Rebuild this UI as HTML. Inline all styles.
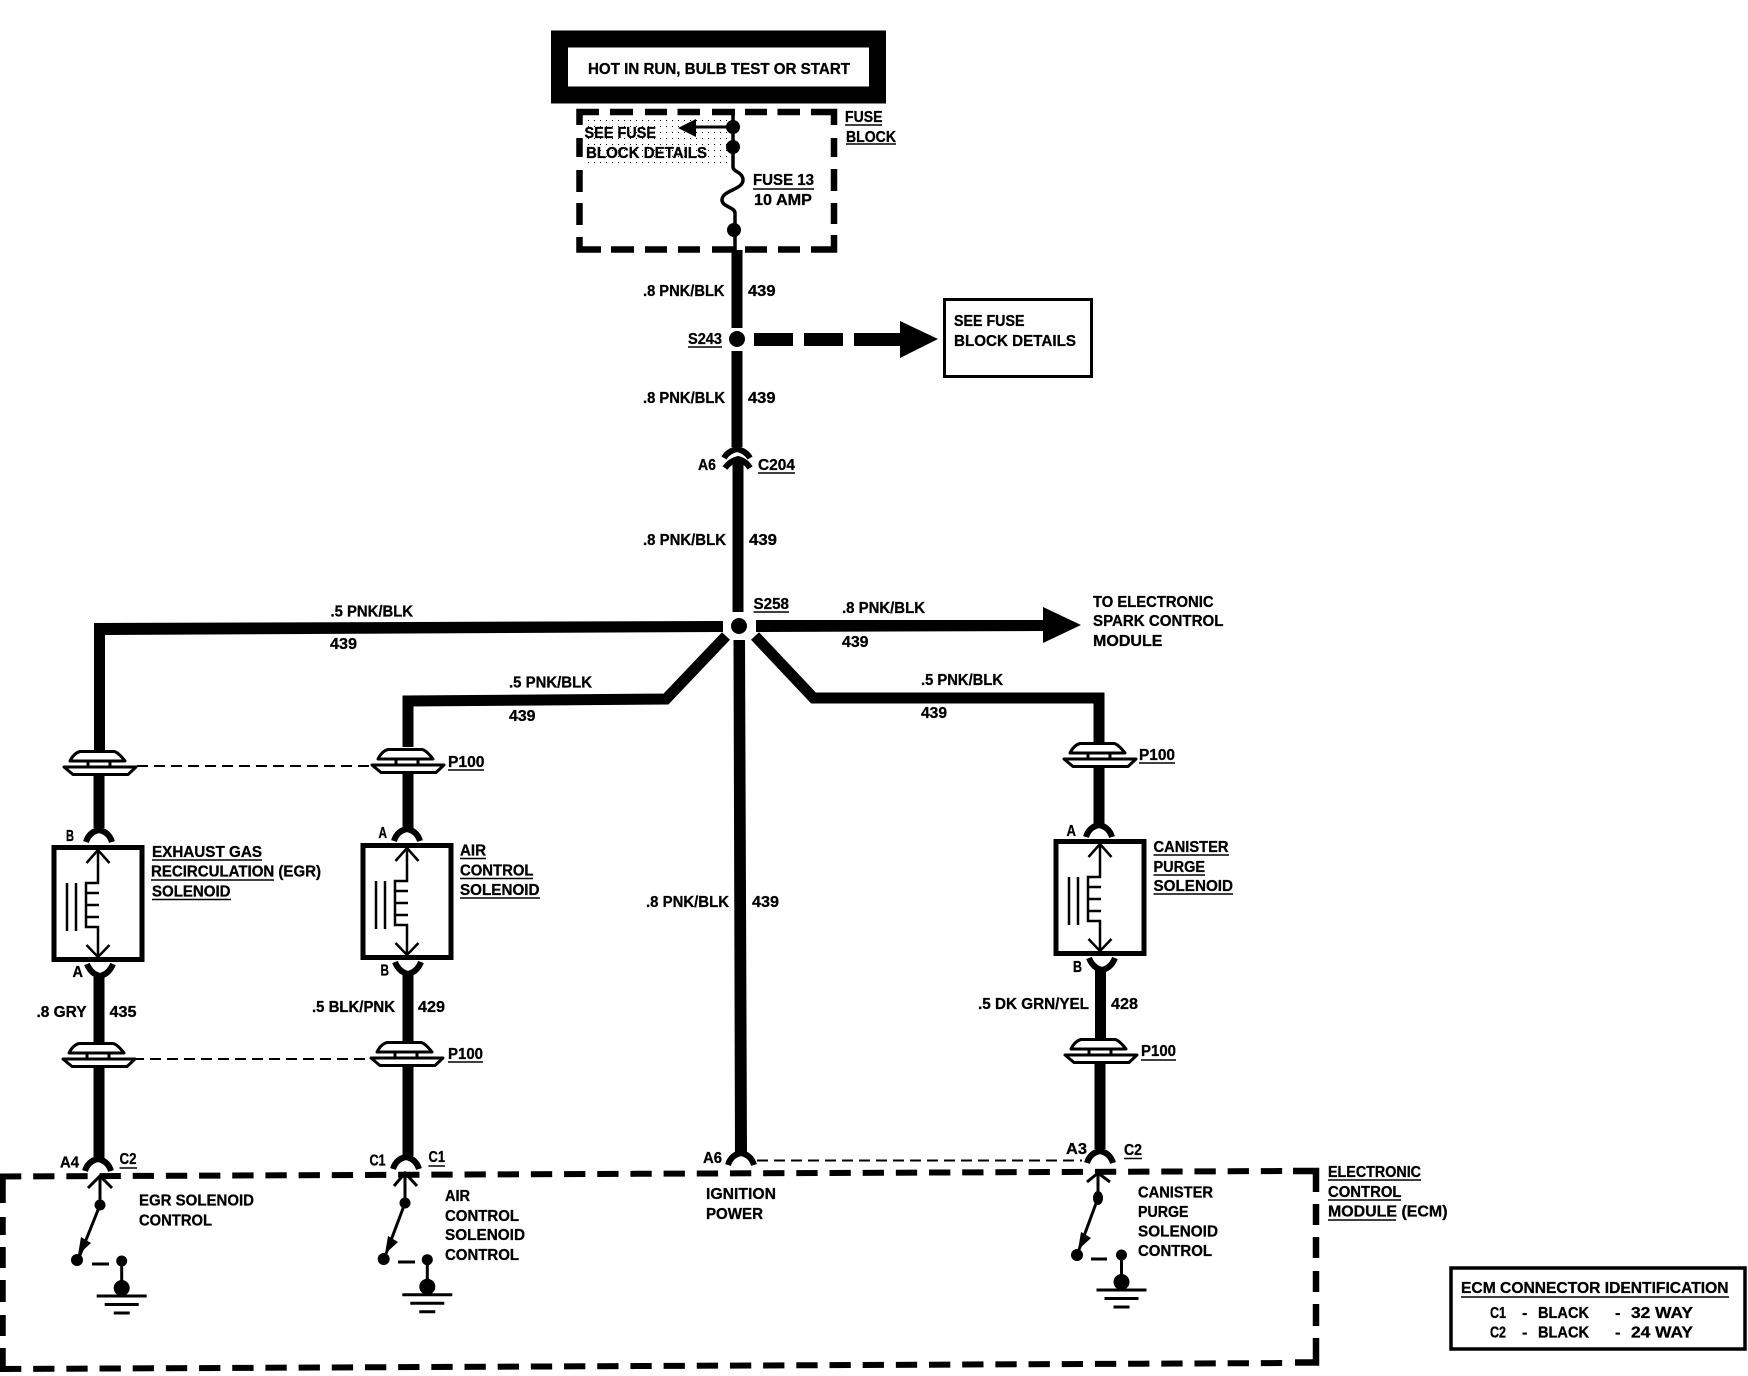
<!DOCTYPE html>
<html><head><meta charset="utf-8"><title>ECM Wiring Diagram</title>
<style>
html,body{margin:0;padding:0;background:#fff}
svg{display:block}
text{font-family:"Liberation Sans",sans-serif;font-weight:bold;font-size:16px;fill:#000;stroke:#000;stroke-width:.3}
.w{stroke:#000;fill:none;stroke-width:11}
.t{stroke:#000;fill:none;stroke-width:2.5}
.s{stroke:#000;fill:none;stroke-width:3}
.u{stroke:#000;fill:none;stroke-width:1.6}
.dd{stroke:#000;fill:none;stroke-width:2;stroke-dasharray:11 6}
.e{stroke:#000;fill:none;stroke-width:6;stroke-dasharray:21.300 11.880}
.x{stroke:#000;fill:none;stroke-width:6.500}
.f{stroke:#000;fill:none;stroke-width:6}
.c{stroke:#000;fill:none;stroke-width:6}
</style></head><body>
<svg xmlns="http://www.w3.org/2000/svg" width="1748" height="1376" viewBox="0 0 1748 1376">
<defs>
<pattern id="dots" width="6" height="6" patternUnits="userSpaceOnUse"><rect width="1" height="1" fill="#000"/></pattern>
<g id="p100">
<rect x="-18" y="12" width="36" height="6" fill="#fff"/>
<path d="M-11,12V18M11,12V18" stroke="#000" stroke-width="3"/>
<path d="M-19,2.500H15Q19,3 26,12H-29Q-25,4 -19,2.500Z" fill="#fff" stroke="#000" stroke-width="3" stroke-linejoin="round"/>
<path d="M-35,18H37L29,25.500H-26Z" fill="#fff" stroke="#000" stroke-width="3" stroke-linejoin="round"/>
</g>
<g id="sol">
<rect x="-44" y="2.500" width="88" height="112" fill="#fff" stroke="#000" stroke-width="5"/>
<path d="M0,5V38H-12V82H0V112M-11.500,18L0,5L11.500,18M-11.500,100L0,112L11.500,100M-12,48H1M-12,60H1M-12,72H1" class="t"/>
<path d="M-31,38V86M-22,38V86" class="t"/>
</g>
<path id="conn" d="M-13,12Q-10,2 0,0Q10,2 13,12" class="c"/>
<path id="connr" d="M-13,-12Q-9,-2 0,0Q9,-2 13,-12" class="c"/>
<g id="gnd">
<circle cx="0" cy="0" r="8"/>
<circle cx="0" cy="-27" r="5.500"/>
<path d="M0,-27V0" class="s"/>
<path d="M-25,8H25M-17,16.500H17" class="s" stroke-width="2.500"/>
<path d="M-8,25H8" class="s"/>
</g>
</defs>

<!-- top box -->
<rect x="559.500" y="39" width="318" height="56" fill="#fff" stroke="#000" stroke-width="17"/>
<text x="588" y="74" textLength="262" lengthAdjust="spacingAndGlyphs">HOT IN RUN, BULB TEST OR START</text>

<!-- fuse block -->
<rect x="584" y="116" width="150" height="47" fill="url(#dots)"/>
<path class="x" d="M579.500,125V112H599M610,112H633M645,112H667M677.500,112H700M712,112H735M745,112H767M777.500,112H800M811,112H834V125"/>
<path class="x" d="M834,138V157M834,169V191M834,203V224M834,235V249.500H811M800,249.500H778M767,249.500H745M735,249.500H712M700,249.500H678M667,249.500H645M634,249.500H611M601,249.500H579.500V237M579.500,225V203M579.500,192V170M579.500,157V138"/>
<path d="M733,112V167C733,172 743,172 743,180C743,190 722,190 722,200C722,207 735,207 735,213V250" fill="none" stroke="#000" stroke-width="3.500"/>
<circle cx="733" cy="127" r="7"/><circle cx="733" cy="147" r="7"/><circle cx="734" cy="230" r="7"/>
<path d="M733,127H696" class="s"/><polygon points="678,128 696,119 696,137"/>
<text x="584.500" y="138" textLength="71.500" lengthAdjust="spacingAndGlyphs">SEE FUSE</text>
<text x="586" y="158" textLength="121" lengthAdjust="spacingAndGlyphs">BLOCK DETAILS</text>
<text x="753" y="185" textLength="61" lengthAdjust="spacingAndGlyphs">FUSE 13</text><path class="u" d="M753,189H814"/>
<text x="754" y="205" textLength="58" lengthAdjust="spacingAndGlyphs">10 AMP</text>
<text x="845" y="122" textLength="37.500" lengthAdjust="spacingAndGlyphs">FUSE</text><path class="u" d="M845,125H882"/>
<text x="846" y="142" textLength="50" lengthAdjust="spacingAndGlyphs">BLOCK</text><path class="u" d="M846,144H896"/>

<!-- main wire -->
<path class="w" d="M737,250V328M737,351V447M738,462V612"/>
<path d="M733.500,640H745L747,1155H735Z"/>
<circle cx="737" cy="339" r="8"/>
<rect x="754" y="333" width="39" height="13"/><rect x="804" y="333" width="39" height="13"/><rect x="854" y="333" width="46" height="13"/>
<polygon points="900,321 938,339 900,358"/>
<rect x="944.500" y="299.500" width="147" height="77" fill="#fff" stroke="#000" stroke-width="3"/>
<text x="954" y="326" textLength="70.500" lengthAdjust="spacingAndGlyphs">SEE FUSE</text>
<text x="954" y="346" textLength="122" lengthAdjust="spacingAndGlyphs">BLOCK DETAILS</text>
<text x="643" y="296" textLength="81.500" lengthAdjust="spacingAndGlyphs">.8 PNK/BLK</text>
<text x="748" y="296" textLength="27.500" lengthAdjust="spacingAndGlyphs">439</text>
<text x="688" y="344" textLength="34" lengthAdjust="spacingAndGlyphs">S243</text><path class="u" d="M688,347H722"/>
<text x="643" y="403" textLength="82" lengthAdjust="spacingAndGlyphs">.8 PNK/BLK</text>
<text x="748" y="403" textLength="27.500" lengthAdjust="spacingAndGlyphs">439</text>
<!-- C204 -->
<path d="M724,458Q728,451 737,449Q746,451 750,458" class="c" stroke-width="4.500"/>
<path d="M725,468Q730,461 738,459Q746,461 750,468" class="c"/>
<text x="698" y="470" textLength="18" lengthAdjust="spacingAndGlyphs">A6</text>
<text x="758" y="470" textLength="37" lengthAdjust="spacingAndGlyphs">C204</text><path class="u" d="M758,473H795"/>
<text x="643" y="545" textLength="83" lengthAdjust="spacingAndGlyphs">.8 PNK/BLK</text>
<text x="749" y="545" textLength="28" lengthAdjust="spacingAndGlyphs">439</text>

<!-- S258 -->
<circle cx="739" cy="626" r="8"/>
<text x="753.500" y="609" textLength="35.500" lengthAdjust="spacingAndGlyphs">S258</text><path class="u" d="M753.500,612H789"/>
<path d="M94,623L723,621V632L105,635V773H94Z"/>
<path class="w" stroke-linejoin="miter" d="M726,636L666,699L408,701V747"/>
<path class="w" stroke-linejoin="miter" d="M755,636L813.500,698H1099V742"/>
<path d="M756,620L1043,620V631L756,632Z"/>
<polygon points="1043,607 1081,625 1043,643"/>
<text x="330.500" y="616.500" textLength="82.500" lengthAdjust="spacingAndGlyphs">.5 PNK/BLK</text>
<text x="330" y="649" textLength="27" lengthAdjust="spacingAndGlyphs">439</text>
<text x="509" y="687.500" textLength="83" lengthAdjust="spacingAndGlyphs">.5 PNK/BLK</text>
<text x="509" y="721" textLength="26.500" lengthAdjust="spacingAndGlyphs">439</text>
<text x="842" y="613" textLength="83" lengthAdjust="spacingAndGlyphs">.8 PNK/BLK</text>
<text x="842" y="647" textLength="26.500" lengthAdjust="spacingAndGlyphs">439</text>
<text x="921" y="685" textLength="82" lengthAdjust="spacingAndGlyphs">.5 PNK/BLK</text>
<text x="921" y="718" textLength="26" lengthAdjust="spacingAndGlyphs">439</text>
<text x="1093" y="607" textLength="120.500" lengthAdjust="spacingAndGlyphs">TO ELECTRONIC</text>
<text x="1093" y="626" textLength="130.500" lengthAdjust="spacingAndGlyphs">SPARK CONTROL</text>
<text x="1093" y="646" textLength="69.500" lengthAdjust="spacingAndGlyphs">MODULE</text>
<text x="646" y="907" textLength="83" lengthAdjust="spacingAndGlyphs">.8 PNK/BLK</text>
<text x="752" y="907" textLength="27" lengthAdjust="spacingAndGlyphs">439</text>

<!-- wires column 1 -->
<path class="w" d="M99,772V828M99,977V1043M99,1066V1159"/>
<use href="#p100" x="99" y="749"/>
<use href="#p100" x="98" y="1041"/>
<use href="#conn" x="99" y="830"/>
<use href="#sol" x="98" y="845"/>
<use href="#connr" x="100" y="976"/>
<use href="#conn" x="98" y="1159"/>
<path class="dd" d="M137,766H373"/>
<path class="dd" d="M133,1059H366"/>
<text x="66" y="841" textLength="8" lengthAdjust="spacingAndGlyphs">B</text>
<text x="72.500" y="977" textLength="10.500" lengthAdjust="spacingAndGlyphs">A</text>
<text x="36.500" y="1017" textLength="50" lengthAdjust="spacingAndGlyphs">.8 GRY</text>
<text x="109.500" y="1017" textLength="27" lengthAdjust="spacingAndGlyphs">435</text>
<text x="152" y="857" textLength="110" lengthAdjust="spacingAndGlyphs">EXHAUST GAS</text><path class="u" d="M152,860H262"/>
<text x="151" y="876.500" textLength="170" lengthAdjust="spacingAndGlyphs">RECIRCULATION (EGR)</text><path class="u" d="M151,880H274"/>
<text x="152" y="896.500" textLength="78.500" lengthAdjust="spacingAndGlyphs">SOLENOID</text><path class="u" d="M152,899.500H231"/>
<text x="60" y="1167.500" textLength="19" lengthAdjust="spacingAndGlyphs">A4</text>
<text x="119.500" y="1164" textLength="17" lengthAdjust="spacingAndGlyphs">C2</text><path class="u" d="M119.500,1168H137"/>

<!-- wires column 2 -->
<path class="w" d="M408,770V828M408,975V1042M408,1066V1156"/>
<use href="#p100" x="407" y="747"/>
<use href="#p100" x="406" y="1040"/>
<use href="#conn" x="407" y="829"/>
<use href="#sol" x="407" y="843"/>
<use href="#connr" x="408" y="974"/>
<use href="#conn" x="406" y="1157"/>
<text x="448" y="767" textLength="36.500" lengthAdjust="spacingAndGlyphs">P100</text><path class="u" d="M448,770H484"/>
<text x="448" y="1059" textLength="35" lengthAdjust="spacingAndGlyphs">P100</text><path class="u" d="M448,1062H483"/>
<text x="378.500" y="838" textLength="8.500" lengthAdjust="spacingAndGlyphs">A</text>
<text x="380.500" y="975.500" textLength="8.500" lengthAdjust="spacingAndGlyphs">B</text>
<text x="312" y="1012" textLength="83" lengthAdjust="spacingAndGlyphs">.5 BLK/PNK</text>
<text x="418" y="1012" textLength="27" lengthAdjust="spacingAndGlyphs">429</text>
<text x="460" y="855.500" textLength="26" lengthAdjust="spacingAndGlyphs">AIR</text><path class="u" d="M460,858.500H486"/>
<text x="460" y="875.500" textLength="73.500" lengthAdjust="spacingAndGlyphs">CONTROL</text><path class="u" d="M460,878.500H533"/>
<text x="460" y="895" textLength="79.500" lengthAdjust="spacingAndGlyphs">SOLENOID</text><path class="u" d="M460,898H540"/>
<text x="369.500" y="1165.500" textLength="16" lengthAdjust="spacingAndGlyphs">C1</text>
<text x="428.500" y="1162" textLength="16.500" lengthAdjust="spacingAndGlyphs">C1</text><path class="u" d="M428.500,1166H445"/>

<!-- wires column 3 -->
<path class="w" d="M1099,765V824M1100.500,970V1038M1100,1060V1149"/>
<use href="#p100" x="1099" y="741"/>
<use href="#p100" x="1100" y="1037"/>
<use href="#conn" x="1099" y="825"/>
<use href="#sol" x="1100" y="839"/>
<use href="#connr" x="1102" y="970"/>
<use href="#conn" x="1100" y="1151"/>
<text x="1139" y="760" textLength="36" lengthAdjust="spacingAndGlyphs">P100</text><path class="u" d="M1139,763H1175"/>
<text x="1141" y="1056" textLength="35" lengthAdjust="spacingAndGlyphs">P100</text><path class="u" d="M1141,1060H1176"/>
<text x="1066.500" y="836" textLength="9.500" lengthAdjust="spacingAndGlyphs">A</text>
<text x="1073" y="972" textLength="9" lengthAdjust="spacingAndGlyphs">B</text>
<text x="978" y="1009" textLength="111" lengthAdjust="spacingAndGlyphs">.5 DK GRN/YEL</text>
<text x="1111" y="1009" textLength="27" lengthAdjust="spacingAndGlyphs">428</text>
<text x="1153.500" y="852" textLength="75" lengthAdjust="spacingAndGlyphs">CANISTER</text><path class="u" d="M1153.500,855H1229"/>
<text x="1153.500" y="872" textLength="51.500" lengthAdjust="spacingAndGlyphs">PURGE</text><path class="u" d="M1153.500,875H1205"/>
<text x="1153.500" y="891" textLength="79.500" lengthAdjust="spacingAndGlyphs">SOLENOID</text><path class="u" d="M1153.500,894H1233"/>
<text x="1066" y="1154" textLength="21" lengthAdjust="spacingAndGlyphs">A3</text>
<text x="1124" y="1155" textLength="18" lengthAdjust="spacingAndGlyphs">C2</text><path class="u" d="M1124,1158.500H1142"/>

<!-- ignition -->
<use href="#conn" x="741" y="1153"/>
<path class="dd" d="M757,1160.500H1082"/>
<text x="703" y="1163" textLength="19" lengthAdjust="spacingAndGlyphs">A6</text>
<text x="706" y="1199" textLength="70" lengthAdjust="spacingAndGlyphs">IGNITION</text>
<text x="706" y="1219" textLength="57" lengthAdjust="spacingAndGlyphs">POWER</text>

<!-- ECM box -->
<path class="e" d="M0,1176.500L1293,1171"/>
<path class="x" d="M1293,1171H1316V1192M1316,1204V1225M1316,1237V1258M1316,1271V1292M1316,1304V1326M1316,1338V1362.500H1295"/>
<path class="e" d="M0,1369L1293,1363"/>
<path class="x" d="M2.500,1176.500V1203M2.500,1217V1235M2.500,1247V1268M2.500,1280V1302M2.500,1315V1336M2.500,1348V1369"/>

<!-- switches -->
<path class="s" d="M88,1188L100,1176L112,1188M100,1176V1205L78,1260"/>
<circle cx="100" cy="1205" r="5.500"/><circle cx="77" cy="1260" r="6"/>
<polygon points="78,1255 81,1237 91,1243"/>
<path d="M92,1264H109" class="s"/>
<use href="#gnd" x="121.700" y="1288"/>
<text x="139" y="1205.500" textLength="115" lengthAdjust="spacingAndGlyphs">EGR SOLENOID</text>
<text x="139" y="1225.500" textLength="73" lengthAdjust="spacingAndGlyphs">CONTROL</text>

<path class="s" d="M394,1186L405,1173L417,1186M405,1173V1203L384,1259"/>
<circle cx="405" cy="1203" r="5.500"/><circle cx="383.700" cy="1259" r="6"/>
<polygon points="385,1254 388,1236 398,1242"/>
<path d="M398,1262H415" class="s"/>
<use href="#gnd" x="427.300" y="1286.700"/>
<text x="445" y="1201" textLength="25" lengthAdjust="spacingAndGlyphs">AIR</text>
<text x="445" y="1221" textLength="74" lengthAdjust="spacingAndGlyphs">CONTROL</text>
<text x="445" y="1240" textLength="80" lengthAdjust="spacingAndGlyphs">SOLENOID</text>
<text x="445" y="1260" textLength="74" lengthAdjust="spacingAndGlyphs">CONTROL</text>

<path class="s" d="M1087,1182L1098,1173L1110,1182M1098,1173V1198L1077,1255"/>
<ellipse cx="1098" cy="1198" rx="5" ry="7"/><circle cx="1077" cy="1255" r="6"/>
<polygon points="1078,1250 1081,1232 1091,1238"/>
<path d="M1091,1259H1107" class="s"/>
<use href="#gnd" x="1121.500" y="1282"/>
<text x="1138" y="1197.500" textLength="75" lengthAdjust="spacingAndGlyphs">CANISTER</text>
<text x="1138" y="1217" textLength="50.500" lengthAdjust="spacingAndGlyphs">PURGE</text>
<text x="1138" y="1236.500" textLength="80" lengthAdjust="spacingAndGlyphs">SOLENOID</text>
<text x="1138" y="1256" textLength="74" lengthAdjust="spacingAndGlyphs">CONTROL</text>

<text x="1328" y="1177" textLength="93" lengthAdjust="spacingAndGlyphs">ELECTRONIC</text><path class="u" d="M1328,1180H1421"/>
<text x="1328" y="1197" textLength="73.500" lengthAdjust="spacingAndGlyphs">CONTROL</text><path class="u" d="M1328,1200H1401"/>
<text x="1328" y="1216.500" textLength="119.500" lengthAdjust="spacingAndGlyphs">MODULE (ECM)</text><path class="u" d="M1328,1220H1396"/>

<!-- connector id box -->
<rect x="1451" y="1268" width="294" height="81" fill="#fff" stroke="#000" stroke-width="3.500"/>
<text x="1461" y="1293" textLength="267.500" lengthAdjust="spacingAndGlyphs">ECM CONNECTOR IDENTIFICATION</text><path class="u" d="M1461,1297H1729"/>
<text x="1490" y="1318" textLength="16" lengthAdjust="spacingAndGlyphs">C1</text><text x="1522" y="1318">-</text>
<text x="1538" y="1318" textLength="51" lengthAdjust="spacingAndGlyphs">BLACK</text><text x="1615" y="1318">-</text>
<text x="1631" y="1318" textLength="62" lengthAdjust="spacingAndGlyphs">32 WAY</text>
<text x="1490" y="1337.500" textLength="16" lengthAdjust="spacingAndGlyphs">C2</text><text x="1522" y="1337.500">-</text>
<text x="1538" y="1337.500" textLength="51" lengthAdjust="spacingAndGlyphs">BLACK</text><text x="1615" y="1337.500">-</text>
<text x="1631" y="1337.500" textLength="62" lengthAdjust="spacingAndGlyphs">24 WAY</text>
</svg>
</body></html>
